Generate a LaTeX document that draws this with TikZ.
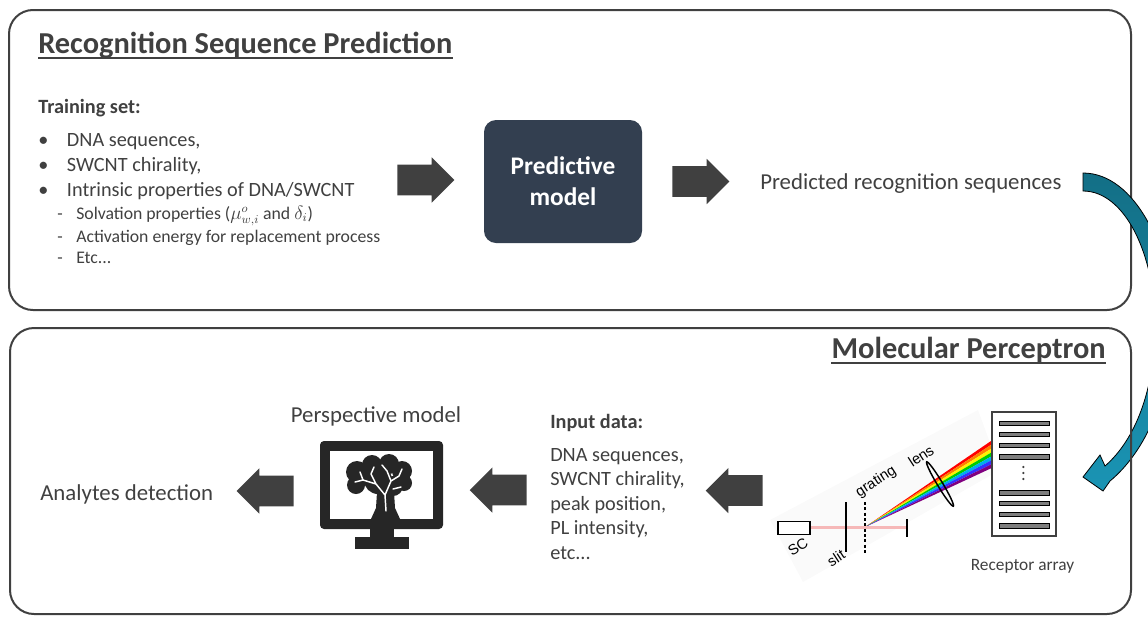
\documentclass[tikz,border=0pt]{standalone}
\usepackage{fontspec}
\setmainfont{Carlito}
\newfontfamily\labelfont{Liberation Sans}
\usetikzlibrary{shapes.geometric, shapes.arrows}

\definecolor{textgray}{HTML}{404040}
\definecolor{modelblue}{HTML}{333F50}
\definecolor{tealdark}{HTML}{136F86}
\definecolor{teallight}{HTML}{1A94B4}
\definecolor{beampink}{HTML}{F6B8B8}
\definecolor{bargray}{HTML}{7F7F7F}
\definecolor{iconblack}{HTML}{262626}

\newcommand{\titlesize}{\fontsize{22.8}{27}\selectfont}
\newcommand{\bodysize}{\fontsize{17.1}{21}\selectfont}
\newcommand{\listsize}{\fontsize{15.2}{18.4}\selectfont}
\newcommand{\subsize}{\fontsize{13.3}{16}\selectfont}

\tikzset{
  panel/.style = {rectangle, rounded corners = 18pt, draw = textgray, line width = 1.5pt},
  txt/.style = {inner sep = 0pt, text = textgray},
  fatarrow/.style = {single arrow, fill = textgray, inner xsep = 0pt, inner ysep = 11.25pt,
                     minimum height = 42.75pt, single arrow head extend = 5.6pt,
                     single arrow head indent = 0pt, anchor = tail},
  optlabel/.style = {inner sep = 0pt, font = \labelfont\fontsize{11}{12}\selectfont, rotate = 33},
}

\begin{document}
\begin{tikzpicture}[x = 0.75pt, y = -0.75pt]

\useasboundingbox (0, 0) rectangle (1148, 618);


%%% Prediction panel

\node[panel, minimum width = 841.5pt, minimum height = 225pt] (top panel) at (570, 160) {};

\node[txt, font = \titlesize\bfseries, anchor = base west] (rsp title) at (38, 53.3) {Recognition Sequence Prediction};
\draw[textgray, line width = 1.1pt] ([yshift = -3.6pt] rsp title.base west) -- ([yshift = -3.6pt] rsp title.base east);

\node[txt, font = \listsize\bfseries, anchor = base west] (train) at (38, 113) {Training set:};

\node[txt, font = \listsize, anchor = base west] (bullet a) at (38, 146.7) {\textbullet};
\node[txt, font = \listsize, anchor = base west] (item a) at (66.7, 146.7) {DNA sequences,};
\node[txt, font = \listsize, anchor = base west] (bullet b) at (38, 171.5) {\textbullet};
\node[txt, font = \listsize, anchor = base west] (item b) at (66.7, 171.5) {SWCNT chirality,};
\node[txt, font = \listsize, anchor = base west] (bullet c) at (38, 196) {\textbullet};
\node[txt, font = \listsize, anchor = base west] (item c) at (66.7, 196) {Intrinsic properties of DNA/SWCNT};

\node[txt, font = \subsize, anchor = base west] (dash a) at (57, 219) {-};
\node[txt, font = \subsize, anchor = base west] (sub a) at (76, 219) {Solvation properties ($\mu^{o}_{w,i}$ and $\delta_{i}$)};
\node[txt, font = \subsize, anchor = base west] (dash b) at (57, 242) {-};
\node[txt, font = \subsize, anchor = base west] (sub b) at (76, 242) {Activation energy for replacement process};
\node[txt, font = \subsize, anchor = base west] (dash c) at (57, 263.5) {-};
\node[txt, font = \subsize, anchor = base west] (sub c) at (76, 263.5) {Etc...};

\node[fatarrow] (arrow in) at (397, 180) {};

\node[rectangle, rounded corners = 9pt, fill = modelblue, minimum width = 118.5pt, minimum height = 92.25pt,
      text = white, font = \fontsize{19}{23.2}\selectfont\bfseries, align = center] (predictive) at (563, 181.5) {Predictive\\model};

\node[fatarrow] (arrow out) at (672, 181.5) {};

\node[txt, font = \bodysize, anchor = base west] (predicted) at (760, 189) {Predicted recognition sequences};


%%% Curved link between the panels

\path[top color = tealdark, bottom color = teallight, draw = black, line width = 0.6pt]
  (1083, 173) .. controls (1135, 173) and (1172, 250) .. (1172, 320)
  .. controls (1172, 395) and (1145, 452) .. (1110, 481)
  -- (1103, 491) -- (1083, 477) -- (1100, 455) -- (1105, 466)
  .. controls (1135, 440) and (1155, 390) .. (1155, 325)
  .. controls (1155, 255) and (1125, 191) .. (1083, 191) -- cycle;


%%% Perceptron panel

\node[panel, minimum width = 840.75pt, minimum height = 214.5pt] (bottom panel) at (570.5, 471) {};

\node[txt, font = \titlesize\bfseries, anchor = base east] (mp title) at (1106, 358) {Molecular Perceptron};
\draw[textgray, line width = 1.1pt] ([yshift = -3.6pt] mp title.base west) -- ([yshift = -3.6pt] mp title.base east);

% spectrometer
\fill[black!2] (770, 520) -- (978, 410) -- (1000, 470) -- (803, 582) -- cycle;

\foreach \col [count = \i] in {red, orange, yellow, green!80!black, cyan, blue!80, violet}
  \fill[\col] (865, 527) -- (991, {441 + (\i - 1) * 3.9}) -- (991, {441 + \i * 3.9}) -- cycle;

\draw[beampink, line width = 2.4pt] (810, 527.5) -- (907, 527.5);
\node[rectangle, draw = black, fill = white, line width = 1pt, minimum width = 24pt, minimum height = 9.5pt, inner sep = 0pt] (sc box) at (794, 528) {};
\draw[black, line width = 0.9pt] (846, 502) -- (846, 552);
\draw[black, line width = 2.2pt, dash pattern = on 2.2pt off 1.8pt] (865, 502) -- (865, 553);
\draw[black, line width = 1pt] (907, 519) -- (907, 537);
\draw[black, line width = 1.1pt, rotate around = {-59:(940, 484)}] (940, 484) ellipse [x radius = 19.4pt, y radius = 2pt];

\node[optlabel] (sc label) at (798, 546.7) {SC};
\node[optlabel] (slit label) at (836, 558) {slit};
\node[optlabel] (grating label) at (876, 482) {grating};
\node[optlabel] (lens label) at (921, 456) {lens};

% receptor array
\node[rectangle, draw = textgray, line width = 1pt, fill = white, minimum width = 48pt, minimum height = 93pt] (receptor) at (1024, 474) {};
\foreach \y in {423.3, 434.3, 445.3, 456.7, 492.7, 503.3, 514.3, 525.7}
  \draw[fill = bargray, draw = black, line width = 0.6pt] (999.5, \y - 2.4) rectangle (1049.5, \y + 2.4);
\foreach \y in {467, 473, 479}
  \fill[textgray] (1023.3, \y) circle (0.9pt);

\node[txt, font = \fontsize{13}{15}\selectfont, anchor = base] (receptor label) at (1022.5, 570) {Receptor array};

\node[fatarrow, shape border rotate = 180] (arrow spec) at (763, 490.5) {};

% input data
\node[txt, font = \listsize\bfseries, anchor = base west] (input) at (550, 428.3) {Input data:};
\node[txt, font = \listsize, anchor = base west] (input a) at (550, 461) {DNA sequences,};
\node[txt, font = \listsize, anchor = base west] (input b) at (550, 485.5) {SWCNT chirality,};
\node[txt, font = \listsize, anchor = base west] (input c) at (550, 510) {peak position,};
\node[txt, font = \listsize, anchor = base west] (input d) at (550, 534.5) {PL intensity,};
\node[txt, font = \listsize, anchor = base west] (input e) at (550, 559) {etc...};

\node[fatarrow, shape border rotate = 180] (arrow data) at (527, 490) {};

% monitor with brain
\node[txt, font = \bodysize, anchor = base] (perspective) at (376, 422) {Perspective model};

\fill[iconblack, rounded corners = 3pt] (320, 441) rectangle (443, 529);
\fill[white] (330, 451) rectangle (433, 519);
\fill[iconblack] (370, 529) rectangle (394, 537);
\fill[iconblack] (355, 537) rectangle (409, 549);

\fill[iconblack] (357, 472) circle (8.25pt) (372, 465) circle (7.5pt) (389, 464) circle (7.5pt)
  (402, 471) circle (7.5pt) (404, 483) circle (6pt) (356, 485) circle (6.75pt)
  (378, 480) circle (10.5pt) (393, 486) circle (7.5pt);
\fill[iconblack] (377, 492) -- (376, 508) -- (371, 519) -- (400, 519) -- (395, 508) -- (394, 492) -- cycle;
\draw[white, line width = 1.1pt, line cap = round, line join = round]
  (386, 511) -- (385, 495) -- (376, 484) -- (363, 480) -- (355, 482)
  (363, 480) -- (360, 472)
  (376, 484) -- (371, 474) -- (374, 467)
  (385, 495) -- (391, 481) -- (387, 471) -- (382, 465)
  (391, 481) -- (399, 476) -- (402, 469)
  (393, 489) -- (401, 487);

\node[fatarrow, shape border rotate = 180] (arrow result) at (294, 491) {};

\node[txt, font = \bodysize, anchor = base west] (analytes) at (40, 500) {Analytes detection};

\end{tikzpicture}
\end{document}
